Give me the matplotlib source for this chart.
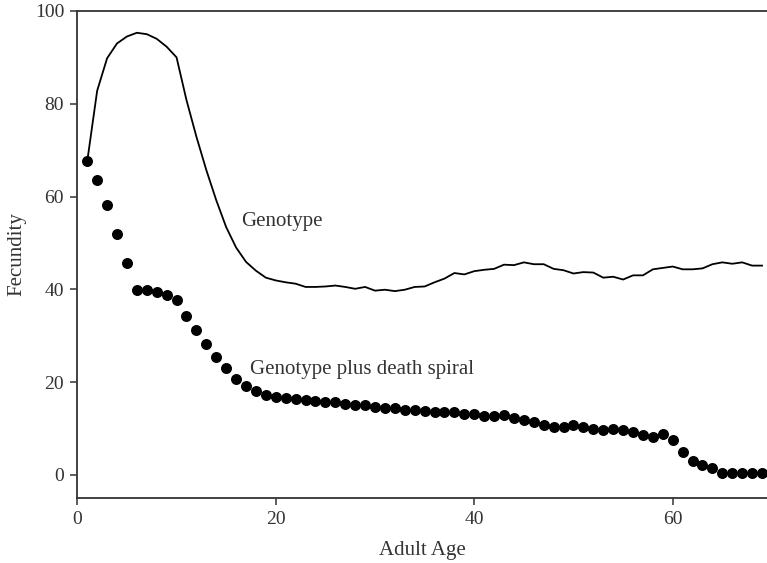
import matplotlib
matplotlib.use("Agg")
import matplotlib.pyplot as plt

plt.rcParams['font.family'] = ['Liberation Serif', 'DejaVu Serif']

ages = list(range(1, 70))
genotype = [67.6, 82.8, 89.8, 93.0, 94.5, 95.3, 95.0, 94.0, 92.3, 90.0,
            80.8, 72.9, 65.7, 59.2, 53.4, 49.0, 45.9, 44.0, 42.5, 41.9,
            41.5, 41.2, 40.5, 40.5, 40.6, 40.8, 40.5, 40.1, 40.5, 39.7,
            39.9, 39.6, 39.9, 40.5, 40.6, 41.5, 42.3, 43.5, 43.2, 43.9,
            44.2, 44.4, 45.3, 45.2, 45.8, 45.4, 45.4, 44.4, 44.1, 43.4,
            43.7, 43.6, 42.5, 42.7, 42.1, 43.0, 43.0, 44.3, 44.6, 44.9,
            44.3, 44.3, 44.5, 45.4, 45.8, 45.5, 45.8, 45.1, 45.1]
death_spiral = [67.6, 63.6, 58.2, 52.0, 45.6, 39.9, 39.9, 39.4, 38.7, 37.6,
                34.2, 31.2, 28.2, 25.3, 23.0, 20.7, 19.2, 18.1, 17.3, 16.8,
                16.6, 16.4, 16.1, 15.9, 15.8, 15.7, 15.3, 15.1, 15.0, 14.7,
                14.5, 14.3, 14.0, 13.9, 13.8, 13.6, 13.5, 13.5, 13.0, 13.0,
                12.6, 12.6, 12.9, 12.2, 11.9, 11.3, 10.7, 10.2, 10.3, 10.8,
                10.2, 9.8, 9.6, 9.9, 9.6, 9.3, 8.6, 8.1, 8.9, 7.5,
                5.0, 2.9, 2.2, 1.4, 0.3, 0.3, 0.3, 0.3, 0.3]
x_ticks = [0, 20, 40, 60]
y_ticks = [0, 20, 40, 60, 80, 100]

fig = plt.figure(figsize=(7.67, 5.63), dpi=100)
ax = fig.add_axes([0.1008, 0.1155, 0.8992, 0.865])

ax.plot(ages, genotype, color='black', lw=1.3, zorder=2)
ax.plot(ages, death_spiral, 'o', color='black', ms=6.9, zorder=3)

ax.set_xlim(0, 69.5)
ax.set_ylim(-5, 100)
ax.set_xticks(x_ticks)
ax.set_yticks(y_ticks)

txt = '#333333'
for s in ['left', 'bottom', 'top']:
    ax.spines[s].set_color('#333333')
    ax.spines[s].set_linewidth(1.3)
ax.spines['right'].set_visible(False)
ax.tick_params(direction='out', length=5, width=1.1, colors='#333333',
               labelsize=14, labelcolor=txt, pad=4.5)

ax.set_xlabel('Adult Age', fontsize=15, color=txt, labelpad=9)
ax.set_ylabel('Fecundity', fontsize=15, color=txt, labelpad=6)

ax.text(16.5, 53.6, 'Genotype', fontsize=15, color=txt, va='baseline', ha='left')
ax.text(17.4, 21.8, 'Genotype plus death spiral', fontsize=15, color=txt,
        va='baseline', ha='left')

fig.savefig('out.png', dpi=100)
